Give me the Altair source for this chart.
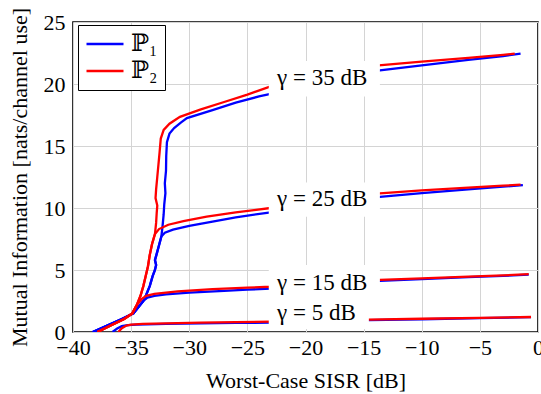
import altair as alt
import pandas as pd

FONT = "Liberation Serif, DejaVu Serif, serif"

SCHEMES = ["ℙ₁", "ℙ₂"]
COLORS = ["#0000ff", "#ff0000"]

# ---- P1 (blue) ----
p1_g5_x = [-36.6, -36.2, -35.8, -35.3, -34.5, -32.0, -29.0, -26.0, -23.0, -14.55, -10.0, -5.0, -0.6]
p1_g5_y = [0.0, 0.28, 0.47, 0.56, 0.6, 0.65, 0.69, 0.73, 0.76, 0.95, 1.03, 1.12, 1.2]

p1_g15_x = [-38.3, -37.0, -35.8, -34.8, -34.3, -33.95, -33.6, -33.0, -32.0, -30.0, -27.0, -25.0, -23.0,
            -13.6, -10.0, -6.0, -3.0, -0.8]
p1_g15_y = [0.0, 0.55, 1.05, 1.5, 2.1, 2.5, 2.78, 2.92, 3.03, 3.17, 3.32, 3.42, 3.5,
            4.12, 4.27, 4.42, 4.53, 4.62]

p1_g25_x = [-38.3, -37.0, -35.8, -34.8, -34.3, -33.95, -33.7, -33.4, -33.15, -32.95, -32.85, -32.95,
            -32.8, -32.6, -32.4, -32.1, -31.4, -30.0, -28.0, -26.0, -23.0,
            -13.6, -10.0, -6.0, -3.0, -1.3]
p1_g25_y = [0.0, 0.55, 1.05, 1.5, 2.1, 2.5, 3.0, 3.7, 4.5, 5.0, 5.4, 5.8,
            6.3, 7.0, 7.7, 8.0, 8.25, 8.55, 8.9, 9.25, 9.65,
            10.9, 11.2, 11.5, 11.72, 11.85]

p1_g35_x = [-38.3, -37.0, -35.8, -34.8, -34.3, -33.95, -33.7, -33.4, -33.15, -32.95, -32.85, -32.95,
            -32.8, -32.6, -32.4, -32.3, -32.2, -32.15, -32.05, -32.1, -32.0, -31.98, -31.92,
            -31.7, -31.3, -30.7, -30.2, -28.0, -26.0, -24.0, -23.0,
            -13.6, -10.0, -6.0, -3.0, -1.5]
p1_g35_y = [0.0, 0.55, 1.05, 1.5, 2.1, 2.5, 3.0, 3.7, 4.5, 5.0, 5.4, 5.8,
            6.3, 7.0, 7.7, 8.5, 9.5, 10.3, 11.2, 12.0, 13.0, 14.2, 15.3,
            16.0, 16.45, 16.9, 17.25, 17.9, 18.5, 19.0, 19.2,
            21.1, 21.5, 21.95, 22.25, 22.45]

# ---- P2 (red) ----
p2_g5_x = [-36.1, -35.8, -35.4, -35.0, -34.0, -32.0, -29.0, -26.0, -23.0, -14.55, -10.0, -5.0, -0.6]
p2_g5_y = [0.0, 0.3, 0.52, 0.6, 0.65, 0.7, 0.75, 0.8, 0.84, 1.0, 1.07, 1.14, 1.21]

p2_g15_x = [-37.9, -36.8, -35.6, -34.9, -34.5, -34.1, -33.7, -33.0, -31.0, -28.0, -25.0, -23.0,
            -13.6, -10.0, -6.0, -3.0, -0.8]
p2_g15_y = [0.0, 0.5, 1.05, 1.5, 2.2, 2.65, 2.92, 3.08, 3.28, 3.45, 3.58, 3.65,
            4.2, 4.33, 4.47, 4.57, 4.66]

p2_g25_x = [-37.9, -36.8, -35.6, -34.9, -34.5, -34.2, -33.95, -33.75, -33.55, -33.4, -33.2, -32.95,
            -32.6, -31.8, -30.5, -28.5, -26.0, -23.0,
            -13.6, -10.0, -6.0, -3.0, -1.5]
p2_g25_y = [0.0, 0.5, 1.05, 1.5, 2.2, 2.9, 3.7, 4.5, 5.3, 6.2, 7.1, 7.9,
            8.3, 8.65, 8.95, 9.3, 9.65, 10.0,
            11.18, 11.42, 11.65, 11.8, 11.88]

p2_g35_x = [-37.9, -36.8, -35.6, -34.9, -34.5, -34.2, -33.95, -33.75, -33.55, -33.4, -33.2, -32.95,
            -32.85, -32.8, -32.75, -32.9, -32.85, -32.75, -32.65, -32.55, -32.45,
            -32.2, -31.7, -30.8, -29.0, -27.0, -25.0, -23.0,
            -13.7, -10.0, -6.0, -3.0, -2.0]
p2_g35_y = [0.0, 0.5, 1.05, 1.5, 2.2, 2.9, 3.7, 4.5, 5.3, 6.2, 7.1, 7.9,
            8.8, 9.6, 10.2, 10.8, 11.5, 12.5, 13.5, 14.5, 15.6,
            16.3, 16.8, 17.35, 17.95, 18.55, 19.15, 19.8,
            21.5, 21.8, 22.1, 22.35, 22.45]

# ---- annotation labels ----
label_text = ["γ = 5 dB", "γ = 15 dB", "γ = 25 dB", "γ = 35 dB"]
label_x = [-22.45, -22.45, -22.45, -22.45]
label_y = [1.55, 3.97, 10.7, 20.45]
box_x0 = [-23.16, -23.16, -23.16, -23.16]
box_x1 = [-14.55, -13.6, -13.6, -13.6]
box_y0 = [0.25, 2.75, 9.3, 19.0]
box_y1 = [2.9, 5.4, 12.05, 21.85]

curves = [
    ("ℙ₁", "5", p1_g5_x, p1_g5_y),
    ("ℙ₁", "15", p1_g15_x, p1_g15_y),
    ("ℙ₁", "25", p1_g25_x, p1_g25_y),
    ("ℙ₁", "35", p1_g35_x, p1_g35_y),
    ("ℙ₂", "5", p2_g5_x, p2_g5_y),
    ("ℙ₂", "15", p2_g15_x, p2_g15_y),
    ("ℙ₂", "25", p2_g25_x, p2_g25_y),
    ("ℙ₂", "35", p2_g35_x, p2_g35_y),
]
rows = []
for scheme, gam, xs, ys in curves:
    for i, (xv, yv) in enumerate(zip(xs, ys)):
        rows.append({"scheme": scheme, "curve": scheme + gam, "i": i, "x": xv, "y": yv})
df = pd.DataFrame(rows)

lab = pd.DataFrame({"text": label_text, "x": label_x, "y": label_y,
                    "x0": box_x0, "x1": box_x1, "y0": box_y0, "y1": box_y1})

xscale = alt.Scale(domain=[-40, 0], nice=False)
yscale = alt.Scale(domain=[0, 25], nice=False)

lines = alt.Chart(df).mark_line(strokeWidth=2.3, clip=True).encode(
    x=alt.X("x:Q", scale=xscale,
            axis=alt.Axis(title="Worst-Case SISR [dB]", values=[-40, -35, -30, -25, -20, -15, -10, -5, 0],
                          labelExpr="replace(datum.label, '-', '−')", labelFlush=False,
                          titleY=55, titleBaseline="alphabetic", labelPadding=5)),
    y=alt.Y("y:Q", scale=yscale,
            axis=alt.Axis(title="Mutual Information [nats/channel use]", values=[0, 5, 10, 15, 20, 25],
                          labelFlush=False,
                          titleX=-47, titleY=155, titleBaseline="alphabetic", titleAngle=-90,
                          titleAlign="center", labelPadding=8)),
    color=alt.Color("scheme:N", scale=alt.Scale(domain=SCHEMES, range=COLORS),
                    legend=alt.Legend(title=None, orient="none", legendX=5, legendY=3,
                                      symbolType="stroke", symbolSize=1369, symbolStrokeWidth=2.5,
                                      clipHeight=24, rowPadding=3,
                                      labelFontSize=24, labelFont=FONT, padding=7,
                                      strokeColor="black", fillColor="white", labelOffset=6)),
    detail="curve:N",
    order="i:Q",
)

boxes = alt.Chart(lab).mark_rect(color="white").encode(
    x=alt.X("x0:Q", scale=xscale), x2="x1:Q",
    y=alt.Y("y0:Q", scale=yscale), y2="y1:Q",
)

texts = alt.Chart(lab).mark_text(align="left", baseline="middle", font=FONT, fontSize=23,
                                 color="black").encode(
    x=alt.X("x:Q", scale=xscale), y=alt.Y("y:Q", scale=yscale), text="text:N",
)

chart = alt.layer(lines, boxes, texts).properties(
    width=465, height=310,
    autosize=alt.AutoSizeParams(type="none"),
    padding={"left": 73, "top": 22, "right": 3, "bottom": 62},
).configure_view(
    stroke="black", strokeWidth=1.6,
).configure_axis(
    grid=True, gridColor="#d4d4d4", gridWidth=1, ticks=False, domain=False,
    labelFont=FONT, labelFontSize=22, labelColor="black",
    titleFont=FONT, titleFontSize=22, titleColor="black", titleFontWeight="normal",
)

chart.save("out.html", embed_options={"renderer": "svg", "actions": False})
